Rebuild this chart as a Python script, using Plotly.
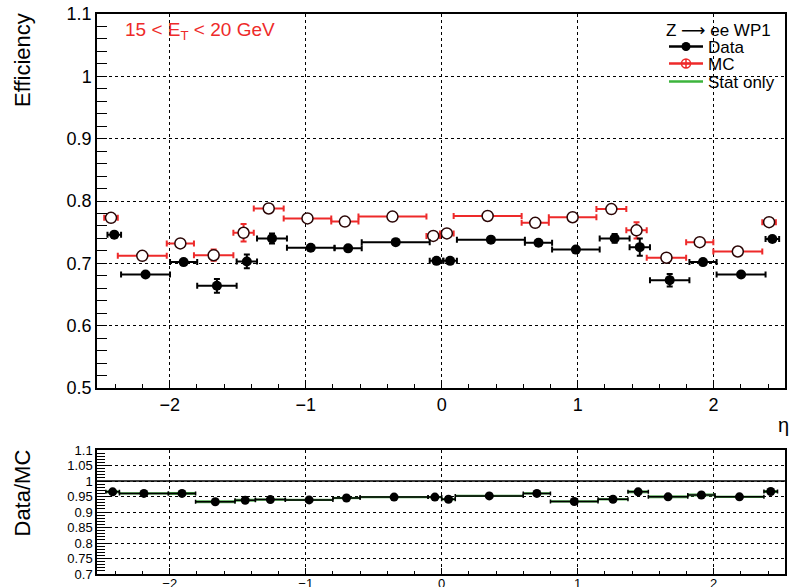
import plotly.graph_objects as go

# ---------------- data ----------------
eta_edges = [-2.47, -2.37, -2.01, -1.81, -1.52, -1.37, -1.15, -0.8, -0.6, -0.1, 0.0,
             0.1, 0.6, 0.8, 1.15, 1.37, 1.52, 1.81, 2.01, 2.37, 2.47]

mc_eff = [0.773, 0.712, 0.732, 0.713, 0.749, 0.788, 0.772, 0.767, 0.775, 0.744,
          0.748, 0.776, 0.765, 0.774, 0.787, 0.753, 0.709, 0.734, 0.719, 0.766]
mc_err = [0.003, 0.002, 0.003, 0.009, 0.014, 0.004, 0.002, 0.003, 0.002, 0.003,
          0.003, 0.002, 0.002, 0.002, 0.003, 0.013, 0.006, 0.003, 0.002, 0.003]

data_eff = [0.746, 0.682, 0.702, 0.664, 0.703, 0.740, 0.725, 0.724, 0.734, 0.704,
            0.704, 0.738, 0.733, 0.722, 0.740, 0.726, 0.673, 0.702, 0.682, 0.739]
data_err = [0.003, 0.002, 0.002, 0.011, 0.011, 0.008, 0.003, 0.002, 0.002, 0.002,
            0.002, 0.002, 0.002, 0.002, 0.007, 0.014, 0.010, 0.002, 0.002, 0.003]

ratio = [0.965, 0.960, 0.960, 0.933, 0.938, 0.940, 0.939, 0.945, 0.948, 0.948,
         0.941, 0.952, 0.960, 0.934, 0.941, 0.965, 0.949, 0.955, 0.949, 0.966]
ratio_err = [0.004, 0.003, 0.003, 0.004, 0.004, 0.003, 0.003, 0.003, 0.003, 0.003,
             0.003, 0.003, 0.003, 0.003, 0.003, 0.004, 0.004, 0.003, 0.003, 0.004]
ratio_stat = [0.003, 0.002, 0.003, 0.003, 0.003, 0.002, 0.002, 0.002, 0.002, 0.002,
              0.002, 0.002, 0.002, 0.002, 0.002, 0.003, 0.003, 0.003, 0.002, 0.003]

x_ticks = [-2, -1, 0, 1, 2]

# ---------------- derived ----------------
centers = [(a + b) / 2 for a, b in zip(eta_edges[:-1], eta_edges[1:])]
widths = [b - a for a, b in zip(eta_edges[:-1], eta_edges[1:])]
half = [w / 2 for w in widths]
shift = 0.012

RED = "#ee2a2a"
FONT = "Liberation Sans, Arial, sans-serif"
W, H = 789, 587

fig = go.Figure()

# MC (upper)
fig.add_trace(go.Scatter(
    x=[c - shift for c in centers], y=mc_eff, mode="markers",
    marker=dict(symbol="circle", size=11, color="white", line=dict(color="#2a0505", width=1.5)),
    error_x=dict(type="data", array=half, color=RED, thickness=2, width=3),
    error_y=dict(type="data", array=mc_err, color=RED, thickness=2, width=3),
    xaxis="x", yaxis="y", showlegend=False))

# Data (upper)
fig.add_trace(go.Scatter(
    x=[c + shift for c in centers], y=data_eff, mode="markers",
    marker=dict(symbol="circle", size=10, color="black"),
    error_x=dict(type="data", array=half, color="black", thickness=2, width=3),
    error_y=dict(type="data", array=data_err, color="black", thickness=2, width=3),
    xaxis="x", yaxis="y", showlegend=False))

# Stat-only band (lower)
fig.add_trace(go.Bar(
    x=centers, y=[2 * s for s in ratio_stat], base=[r - s for r, s in zip(ratio, ratio_stat)],
    width=widths,
    marker=dict(color="rgba(160,220,160,0.9)", line=dict(color="#3a9a3a", width=1),
                pattern=dict(shape="x", fgcolor="#3a9a3a", size=3, solidity=0.3)),
    xaxis="x2", yaxis="y2", showlegend=False, hoverinfo="skip"))

# Ratio points (lower)
fig.add_trace(go.Scatter(
    x=centers, y=ratio, mode="markers",
    marker=dict(symbol="circle", size=9, color="black"),
    error_x=dict(type="data", array=half, color="black", thickness=1.5, width=2),
    error_y=dict(type="data", array=ratio_err, color="black", thickness=1.5, width=2),
    xaxis="x2", yaxis="y2", showlegend=False))

# legend entries (each in its own legend box for tight ROOT-like spacing)
fig.add_trace(go.Scatter(x=[None], y=[None], mode="lines+markers", name="Data",
                         line=dict(color="black", width=2.5),
                         marker=dict(symbol="circle", size=9, color="black"),
                         legend="legend"))
fig.add_trace(go.Scatter(x=[None], y=[None], mode="lines+markers", name="MC",
                         line=dict(color=RED, width=2.5),
                         marker=dict(symbol="circle-cross-open", size=9, color=RED,
                                     line=dict(width=1.5)),
                         legend="legend2"))
fig.add_trace(go.Scatter(x=[None], y=[None], mode="lines", name="Stat only",
                         line=dict(color="#3cb43c", width=2.5),
                         legend="legend3"))


def leg(ypix):
    return dict(x=664 / W, y=1 - ypix / H, xanchor="left", yanchor="middle",
                bgcolor="rgba(0,0,0,0)", font=dict(size=17, family=FONT),
                itemwidth=34)


xdom = [97 / W, 785 / W]
xr = [-2.535, 2.525]
common_x = dict(domain=xdom, range=xr, tickvals=x_ticks, ticks="inside",
                showline=True, linecolor="black", linewidth=1.5, mirror=True,
                showgrid=True, gridcolor="black", griddash="dot", gridwidth=1,
                zeroline=False, tickcolor="black", automargin=False)

fig.update_layout(
    width=W, height=H,
    margin=dict(l=0, r=0, t=0, b=0, autoexpand=False),
    paper_bgcolor="white", plot_bgcolor="white",
    font=dict(family=FONT, color="black"),
    barmode="overlay",
    xaxis=dict(**common_x, anchor="y", ticklen=7, tickfont=dict(size=18),
               minor=dict(dtick=0.2, ticklen=4, ticks="inside", tickcolor="black", showgrid=False)),
    yaxis=dict(domain=[199 / H, 573 / H], range=[0.5, 1.1], dtick=0.1,
               ticks="inside", ticklen=10, tickcolor="black", tickfont=dict(size=18),
               showline=True, linecolor="black", linewidth=1.5, mirror=True,
               showgrid=True, gridcolor="black", griddash="dot", gridwidth=1,
               zeroline=False, anchor="x", automargin=False,
               minor=dict(dtick=0.02, ticklen=10, ticks="inside", tickcolor="black", showgrid=False)),
    xaxis2=dict(**common_x, anchor="y2", ticklen=6, tickfont=dict(size=13),
                ticklabelstandoff=-3,
                minor=dict(dtick=0.2, ticklen=3, ticks="inside", tickcolor="black", showgrid=False)),
    yaxis2=dict(domain=[13 / H, 137 / H], range=[0.7, 1.1], dtick=0.05,
                ticks="inside", ticklen=13, tickcolor="black", tickfont=dict(size=13),
                showline=True, linecolor="black", linewidth=1.5, mirror=True,
                showgrid=True, gridcolor="black", griddash="dot", gridwidth=1,
                zeroline=False, anchor="x2", automargin=False,
                minor=dict(dtick=0.01, ticklen=8, ticks="inside", tickcolor="black", showgrid=False)),
    legend=leg(47),
    legend2=leg(64),
    legend3=leg(82),
    shapes=[dict(type="line", xref="x2 domain", yref="y2", x0=0, x1=1, y0=1, y1=1,
                 line=dict(color="black", width=1.5))],
    annotations=[
        dict(text="15 &lt; E<sub>T</sub> &lt; 20 GeV", x=123 / W, y=1 - 31 / H,
             xref="paper", yref="paper", xanchor="left", yanchor="middle",
             showarrow=False, font=dict(size=19, color=RED, family=FONT)),
        dict(text="Z <span style=\"font-family:DejaVu Sans\">\u27f6</span> ee WP1",
             x=664 / W, y=1 - 30 / H, xref="paper", yref="paper",
             xanchor="left", yanchor="middle", showarrow=False,
             font=dict(size=17, family=FONT)),
        dict(text="Efficiency", x=22 / W, y=1 - 11 / H, xref="paper", yref="paper",
             xanchor="center", yanchor="top", textangle=-90, showarrow=False,
             font=dict(size=22, family=FONT)),
        dict(text="Data/MC", x=22 / W, y=1 - 448 / H, xref="paper", yref="paper",
             xanchor="center", yanchor="top", textangle=-90, showarrow=False,
             font=dict(size=22, family=FONT)),
        dict(text="\u03b7", x=783 / W, y=1 - 425 / H, xref="paper", yref="paper",
             xanchor="center", yanchor="middle", showarrow=False,
             font=dict(size=20, family=FONT)),
    ],
)

fig.write_html("out.html", config={"displayModeBar": False},
               post_script="document.body.style.margin='0';document.body.style.padding='0';")
